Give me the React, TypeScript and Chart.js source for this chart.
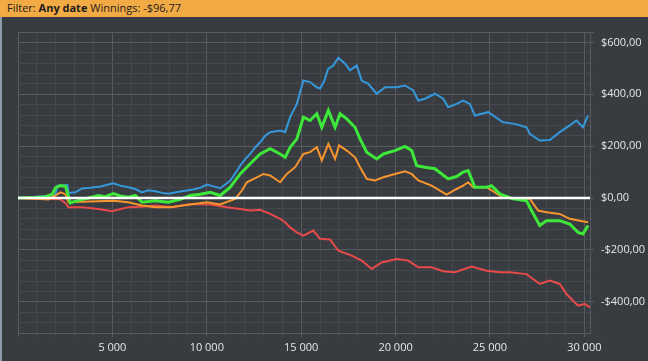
import React, { useEffect, useRef } from "react";
import { Chart, registerables } from "chart.js";
Chart.register(...registerables);

const headerLabel = "Filter:";
const headerFilter = "Any date";
const headerWinnings = "Winnings: -$96,77";

const xMin = 0;
const xMax = 30300;
const xTickStep = 1000;
const xLabelStep = 5000;
const yMin = -520;
const yMax = 640;
const yTickStep = 40;
const yLabelStep = 200;

const blueX = [0, 660, 1455, 1984, 2090, 2619, 2672, 3042, 3396, 3835, 4364, 5052, 5422, 5845, 6216, 6570, 6903, 7274, 7644, 7961, 8596, 9284, 9654, 10025, 10342, 10712, 11030, 11242, 11506, 11771, 12036, 12300, 12564, 12829, 13093, 13357, 13886, 14151, 14416, 14770, 15119, 15473, 15828, 16002, 16214, 16425, 16690, 16970, 17325, 17589, 17944, 18208, 18557, 19002, 19441, 20060, 20499, 20938, 21202, 21555, 22085, 22524, 22789, 23233, 23583, 23937, 24200, 24905, 25699, 26318, 26937, 27111, 27640, 28169, 28698, 29226, 29581, 29930, 30195];
const blueY = [0, 3, 8, 12, 48, 50, 20, 22, 37, 40, 45, 57, 48, 42, 35, 22, 30, 26, 20, 17, 25, 33, 40, 52, 45, 38, 55, 67, 95, 125, 150, 170, 195, 215, 240, 254, 260, 254, 312, 363, 453, 447, 427, 422, 450, 498, 510, 541, 518, 492, 511, 453, 440, 402, 427, 427, 434, 415, 376, 383, 402, 383, 350, 363, 376, 363, 318, 331, 292, 286, 273, 248, 222, 224, 254, 280, 299, 273, 318];

const greenX = [0, 926, 1455, 1825, 1984, 2248, 2513, 2619, 2777, 3042, 3396, 3835, 4258, 4629, 5052, 5422, 5845, 6216, 6570, 7274, 7961, 8596, 9125, 9654, 10183, 10712, 11242, 11771, 12300, 12829, 13357, 13886, 14151, 14416, 14770, 15119, 15473, 15828, 16092, 16441, 16796, 17060, 17415, 17854, 18118, 18473, 19002, 19351, 19970, 20499, 20853, 21118, 21555, 22085, 22789, 23233, 23583, 23848, 24200, 24820, 25085, 25524, 26228, 26937, 27201, 27640, 27994, 28698, 29226, 29666, 29930, 30195];
const greenY = [0, 2, 5, 15, 40, 48, 45, 20, -19, -12, -6, 2, 10, 5, 17, 8, 3, 10, -16, -10, -16, -5, 10, 15, 22, 10, 42, 93, 132, 170, 190, 170, 157, 196, 228, 312, 299, 325, 273, 338, 273, 325, 305, 273, 228, 177, 151, 170, 183, 199, 183, 125, 119, 113, 74, 83, 100, 106, 42, 42, 48, 16, -3, -10, -48, -106, -87, -87, -100, -132, -138, -106];

const orangeX = [0, 926, 1613, 1984, 2248, 2513, 2671, 3396, 4258, 5052, 5845, 6570, 7274, 8067, 9125, 10009, 10712, 11506, 11861, 12126, 12654, 13003, 13357, 13886, 14241, 14680, 15119, 15473, 15828, 16092, 16441, 16796, 17007, 17415, 17854, 18118, 18473, 18912, 19351, 19970, 20499, 20853, 21202, 21911, 22704, 23233, 23583, 23848, 24111, 24820, 25524, 26228, 27111, 27550, 27994, 28698, 29226, 29756, 30195];
const orangeY = [0, -3, -5, 10, 22, 15, -16, -14, -12, -10, -16, -29, -35, -35, -25, -16, -25, -3, 29, 61, 80, 93, 87, 61, 93, 119, 170, 177, 196, 145, 209, 151, 203, 183, 157, 119, 74, 68, 80, 93, 103, 93, 68, 48, 13, 35, 48, 61, 42, 42, 10, -3, -3, -48, -55, -61, -80, -87, -93];

const redX = [0, 1190, 2248, 2513, 2671, 3396, 4258, 4983, 5845, 6570, 7274, 8157, 9125, 10183, 11067, 11771, 12300, 12829, 13357, 13886, 14151, 14416, 14770, 15119, 15648, 16002, 16531, 16970, 17679, 18208, 18737, 19266, 20060, 20673, 21202, 21911, 22524, 23144, 24027, 24820, 25524, 26053, 26937, 27640, 28169, 28698, 29052, 29666, 30019, 30285];
const redY = [0, -3, -5, -20, -35, -35, -42, -51, -35, -33, -29, -35, -23, -25, -35, -42, -48, -45, -61, -80, -93, -113, -132, -145, -125, -157, -160, -203, -222, -241, -273, -248, -235, -241, -267, -267, -282, -286, -264, -280, -286, -286, -293, -331, -318, -331, -370, -415, -408, -421];

const zeroX = [0, 30300];
const zeroY = [0, 0];

const BG = "#383b3f";
const GRID_MINOR = "#45484c";
const GRID_MAJOR = "#575a5e";
const TEXT = "#e6e6e6";
const FONT = "'Open Sans', 'Noto Sans', sans-serif";

const pts = (xs: number[], ys: number[]) => xs.map((x, i) => ({ x, y: ys[i] }));

const range = (a: number, b: number, s: number) => {
  const out: { value: number }[] = [];
  for (let v = a; v <= b; v += s) out.push({ value: v });
  return out;
};

const bgPlugin = {
  id: "bg",
  beforeDraw(chart: any) {
    const ctx = chart.ctx;
    ctx.save();
    ctx.fillStyle = BG;
    ctx.fillRect(0, 0, chart.width, chart.height);
    ctx.restore();
  },
};

export default function App() {
  const ref = useRef<HTMLCanvasElement | null>(null);
  useEffect(() => {
    if (!ref.current) return;
    const chart = new Chart(ref.current, {
      type: "line",
      data: {
        datasets: [
          { label: "zero", data: pts(zeroX, zeroY), borderColor: "#ffffff", borderWidth: 2.5, pointRadius: 0 },
          { label: "green", data: pts(greenX, greenY), borderColor: "#3ee83a", borderWidth: 3, pointRadius: 0 },
          { label: "orange", data: pts(orangeX, orangeY), borderColor: "#f7952e", borderWidth: 2, pointRadius: 0 },
          { label: "blue", data: pts(blueX, blueY), borderColor: "#3598db", borderWidth: 2, pointRadius: 0 },
          { label: "red", data: pts(redX, redY), borderColor: "#e84a4a", borderWidth: 2, pointRadius: 0 },
        ],
      },
      options: {
        animation: false,
        responsive: false,
        events: [],
        layout: { padding: { left: 18, top: 32, right: 0, bottom: 0 } },
        plugins: { legend: { display: false }, tooltip: { enabled: false } },
        elements: { line: { tension: 0 } },
        scales: {
          x: {
            type: "linear",
            min: xMin,
            max: xMax,
            afterBuildTicks: (s: any) => { s.ticks = range(xMin, 30000, xTickStep); },
            afterFit: (s: any) => { s.height = 28; },
            grid: {
              color: (c: any) => (c.tick && c.tick.value % xLabelStep === 0 ? GRID_MAJOR : GRID_MINOR),
              tickLength: 4,
            },
            border: { color: GRID_MAJOR },
            ticks: {
              autoSkip: false,
              maxRotation: 0,
              padding: 4,
              color: TEXT,
              font: { family: FONT, size: 11 },
              callback: (v: any) => {
                const n = Number(v);
                if (n <= 0 || n % xLabelStep !== 0) return "";
                return `${Math.floor(n / 1000)} ${String(n % 1000).padStart(3, "0")}`;
              },
            },
          },
          y: {
            type: "linear",
            position: "right",
            min: yMin,
            max: yMax,
            afterBuildTicks: (s: any) => { s.ticks = range(yMin, yMax, yTickStep); },
            afterFit: (s: any) => { s.width = 58; },
            grid: {
              color: (c: any) => (c.tick && (c.tick.value % yLabelStep === 0 || c.tick.value === yMax) ? GRID_MAJOR : GRID_MINOR),
              tickLength: 4,
            },
            border: { color: GRID_MAJOR },
            ticks: {
              autoSkip: false,
              padding: 7,
              color: TEXT,
              font: { family: FONT, size: 11 },
              callback: (v: any) => {
                const n = Number(v);
                if (n % yLabelStep !== 0) return "";
                return `${n < 0 ? "-" : ""}$${Math.abs(n)},00`;
              },
            },
          },
        },
      },
      plugins: [bgPlugin],
    } as any);
    return () => chart.destroy();
  }, []);

  return (
    <div style={{ position: "fixed", left: 0, top: 0, width: 648, height: 361, overflow: "hidden", background: BG }}>
      <canvas ref={ref} width={648} height={361} style={{ position: "absolute", left: 0, top: 0, width: 648, height: 361 }} />
      <div
        style={{
          position: "absolute", left: 0, top: 0, width: 648, height: 17,
          background: "#f2aa45", color: "#1c1c1c",
          font: `11px ${FONT}`, lineHeight: "16px", paddingLeft: 7, boxSizing: "border-box", whiteSpace: "nowrap",
        }}
      >
        {headerLabel} <b>{headerFilter}</b> {headerWinnings}
      </div>
      <div style={{ position: "absolute", left: 0, top: 17, width: 2, height: 344, background: "#8e9cab" }} />
    </div>
  );
}
